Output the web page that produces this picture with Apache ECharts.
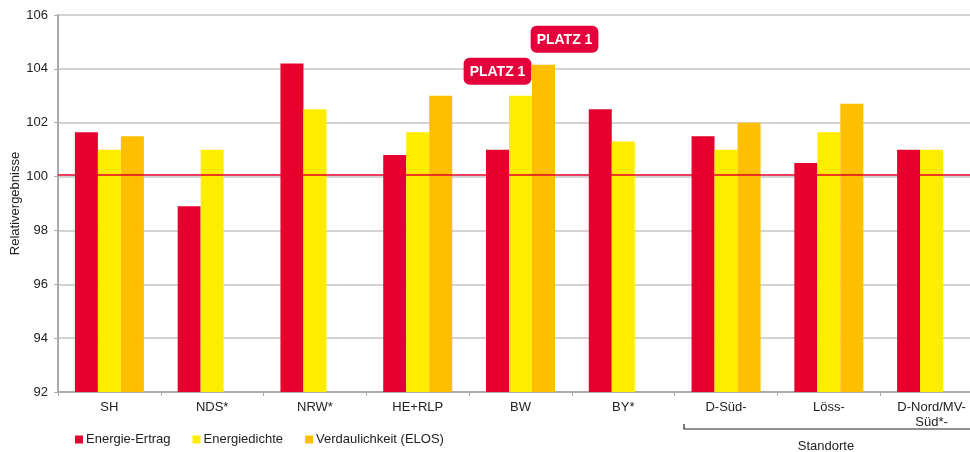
<!DOCTYPE html>
<html><head><meta charset="utf-8">
<script src="https://cdn.jsdelivr.net/npm/echarts@6/dist/echarts.min.js"></script>
<style>html,body{margin:0;padding:0;background:#fff}#c{width:970px;height:452px}</style>
</head><body><div id="c"></div>
<script>
const categories = ['SH','NDS*','NRW*','HE+RLP','BW','BY*','D-Süd-','Löss-','D-Nord/MV-\nSüd*-'];
const energieErtrag = [101.65, 98.9, 104.2, 100.8, 101.0, 102.5, 101.5, 100.5, 101.0];
const energiedichte = [101.0, 101.0, 102.5, 101.65, 103.0, 101.3, 101.0, 101.65, 101.0];
const verdaulichkeit = [101.5, null, null, 103.0, 104.15, null, 102.0, 102.7, null];
const yTicks = {min: 92, max: 106, interval: 2};
const referenceValue = 100;
const platzLabel = 'PLATZ 1';
const platzYellowIndex = 4;
const platzOrangeIndex = 4;

const RED = '#e5002d', YEL = '#ffed00', ORA = '#ffbf00';
const labelStyle = {
  show: true, position: 'top', formatter: platzLabel,
  color: '#fff', fontWeight: 'bold', fontSize: 14, fontFamily: 'Liberation Sans Narrow, Liberation Sans, Arial',
  backgroundColor: '#e4003a', borderRadius: 6, padding: [7, 6, 6, 6]
};
function withLabel(arr, idx, offset) {
  return arr.map((v, i) => i === idx ? {value: v, label: Object.assign({}, labelStyle, {offset: offset})} : v);
}

const chart = echarts.init(document.getElementById('c'), null, {renderer: 'canvas'});
chart.setOption({
  animation: false,
  textStyle: {fontFamily: 'Liberation Sans, Arial, sans-serif'},
  grid: {left: 58, right: -13, top: 15, bottom: 60, containLabel: false, outerBoundsMode: 'none'},
  legend: {
    left: 70, top: 428, itemWidth: 8, itemHeight: 8, itemGap: 22,
    icon: 'rect', textStyle: {fontSize: 13, color: '#222', padding: [0, 0, 0, -2]},
    data: ['Energie-Ertrag', 'Energiedichte', 'Verdaulichkeit (ELOS)']
  },
  xAxis: {
    type: 'category', data: categories,
    axisLine: {lineStyle: {color: '#aaa', width: 2}},
    axisTick: {show: true, length: 4, lineStyle: {color: '#aaa', width: 1}},
    axisLabel: {color: '#222', fontSize: 13, margin: 8, interval: 0, lineHeight: 15}
  },
  yAxis: {
    type: 'value', min: yTicks.min, max: yTicks.max, interval: yTicks.interval,
    name: 'Relativergebnisse', nameLocation: 'middle', nameGap: 36, nameRotate: 90,
    nameMoveOverlap: false,
    nameTextStyle: {fontSize: 13, color: '#222'},
    axisLine: {show: true, lineStyle: {color: '#aaa', width: 2}},
    axisTick: {show: true, length: 4, lineStyle: {color: '#aaa'}},
    axisLabel: {color: '#222', fontSize: 13, margin: 10},
    splitLine: {lineStyle: {color: '#c4c4c4', width: 1.5}}
  },
  series: [
    {name: 'Energie-Ertrag', type: 'bar', data: energieErtrag, barWidth: 23, barGap: '0%',
     itemStyle: {color: RED},
     markLine: {silent: true, symbol: 'none', label: {show: false},
       lineStyle: {color: '#e4002b', width: 1.5, type: 'solid'},
       data: [{yAxis: referenceValue + 0.06}]}},
    {name: 'Energiedichte', type: 'bar', data: withLabel(energiedichte, platzYellowIndex, [-23, -6]), barWidth: 23, barGap: '0%',
     itemStyle: {color: YEL}, z: 3},
    {name: 'Verdaulichkeit (ELOS)', type: 'bar', data: withLabel(verdaulichkeit, platzOrangeIndex, [21, -7]), barWidth: 23, barGap: '0%',
     itemStyle: {color: ORA}, z: 4}
  ],
  graphic: [
    {type: 'polyline', shape: {points: [[684, 424], [684, 429], [970, 429]]}, style: {stroke: '#222', lineWidth: 1.2, fill: null}},
    {type: 'text', x: 826, y: 440, style: {text: 'Standorte', fontSize: 13, fill: '#222', align: 'center', fontFamily: 'Liberation Sans, Arial'}}
  ]
});
</script></body></html>
